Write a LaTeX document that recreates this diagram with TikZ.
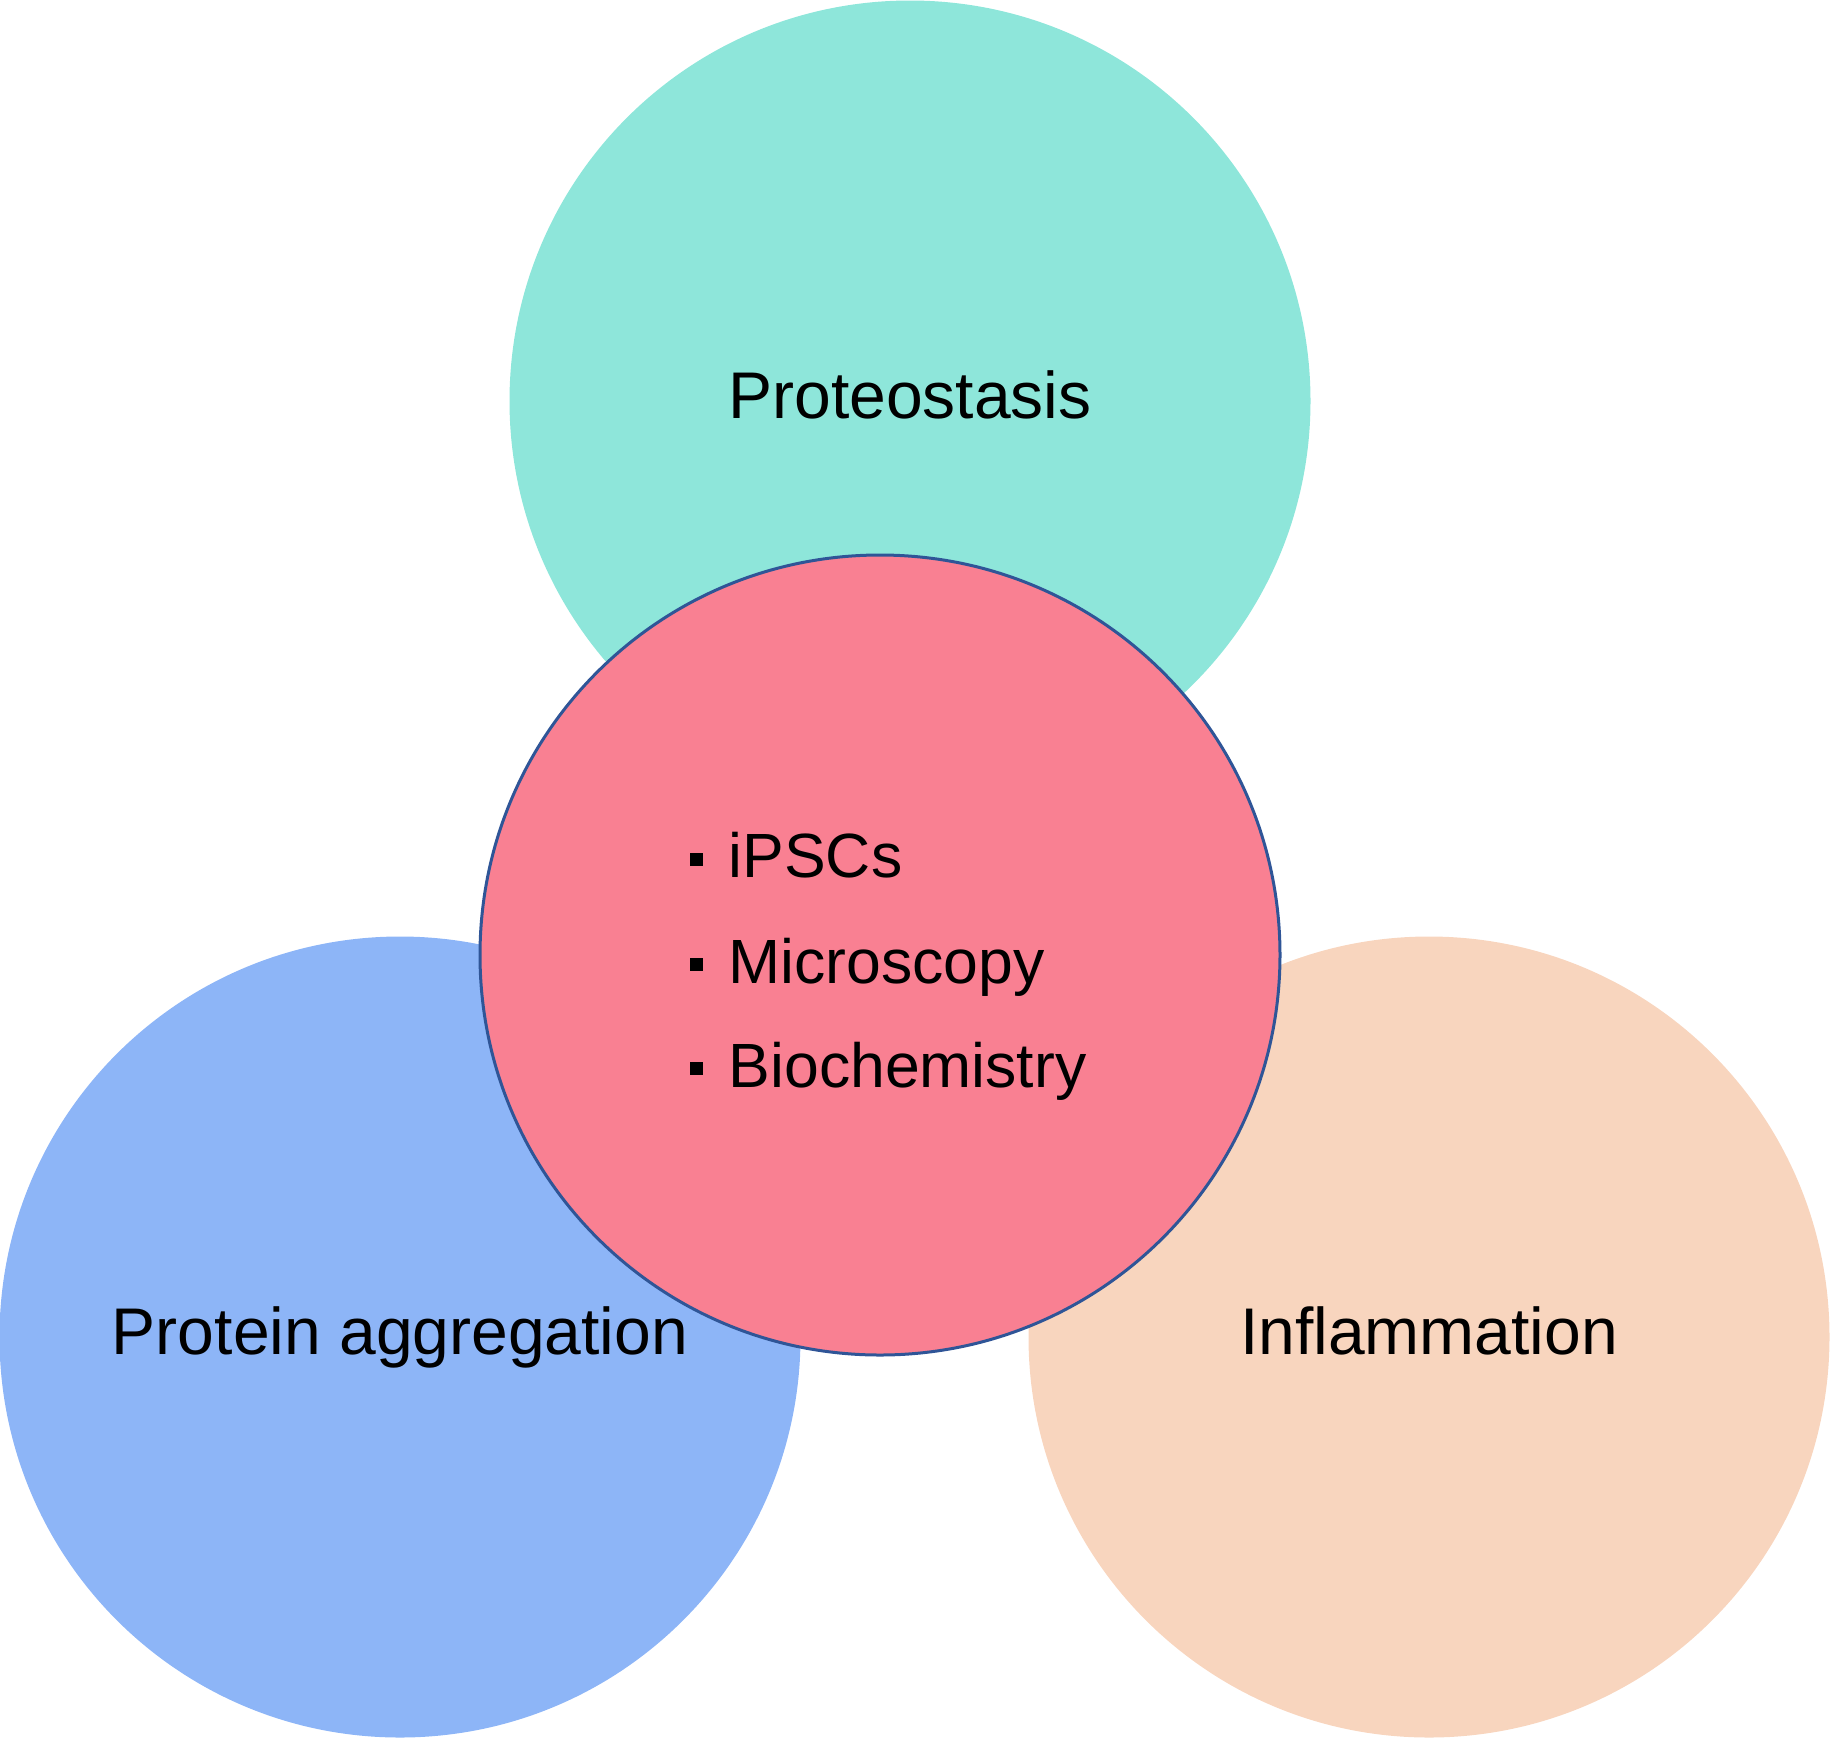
\documentclass[tikz,border=0pt]{standalone}
\usepackage{fontspec}
\setmainfont{Liberation Sans}
\definecolor{teal1}{HTML}{8EE6DA}
\definecolor{blue1}{HTML}{8DB5F7}
\definecolor{peach1}{HTML}{F8D5BE}
\definecolor{pink1}{HTML}{F98092}
\definecolor{rim}{HTML}{2F5597}
\begin{document}
\begin{tikzpicture}[x=1pt,y=-1pt,
  bubble/.style={circle,minimum size=801pt,inner sep=0pt,draw=none},
  label/.style={font=\fontsize{66}{79}\selectfont,inner sep=0pt,anchor=base},
  item/.style={font=\fontsize{62.5}{75}\selectfont,inner sep=0pt,anchor=base west},
  sq/.style={fill=black,draw=none,minimum size=13pt,inner sep=0pt}]
\useasboundingbox (0,0) rectangle (1830,1738);
\node[bubble,fill=teal1] (top) at (910,401) {};
\node[bubble,fill=blue1] (left) at (400,1337) {};
\node[bubble,fill=peach1] (right) at (1429,1337) {};
\node[bubble,fill=pink1,draw=rim,line width=3pt,minimum size=800pt] (mid) at (880,955) {};
\node[label] (tp) at (910,418) {Proteostasis};
\node[label] (lp) at (400,1354) {Protein aggregation};
\node[label] (rp) at (1429,1354) {Inflammation};
\node[item] (i1) at (728.5,877) {iPSCs};
\node[item] (i2) at (728.5,983) {Microscopy};
\node[item] (i3) at (728.5,1087) {Biochemistry};
\node[sq] (s1) at (696,859) {};
\node[sq] (s2) at (696,964) {};
\node[sq] (s3) at (696,1068) {};
\end{tikzpicture}
\end{document}
